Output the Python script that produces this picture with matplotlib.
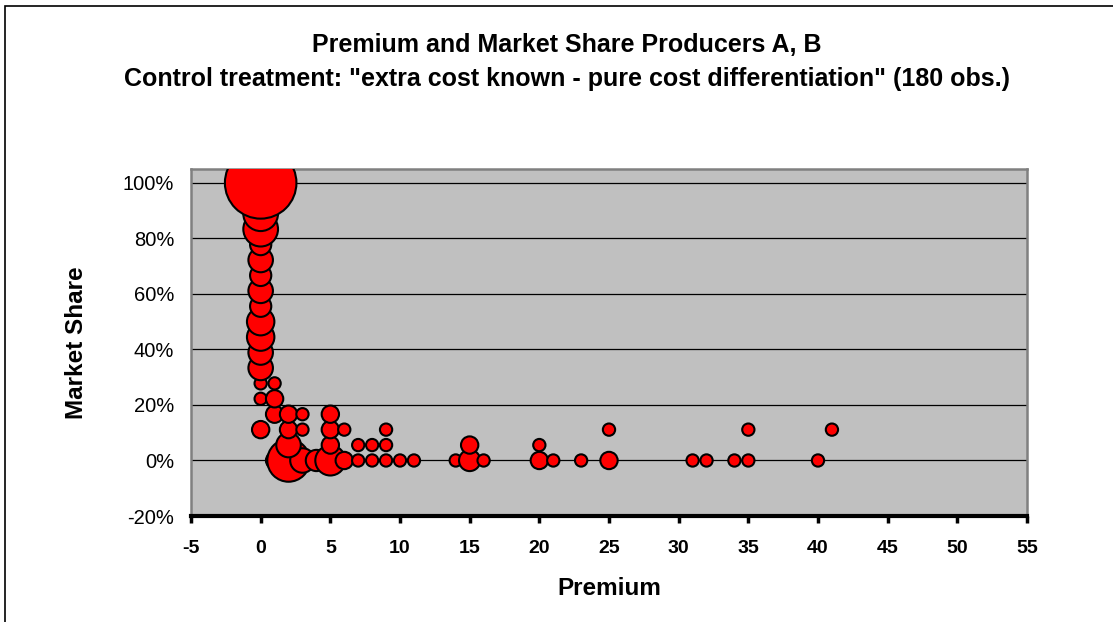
import matplotlib.pyplot as plt
import matplotlib
import numpy as np
from matplotlib.patches import Rectangle
from matplotlib.ticker import FuncFormatter

matplotlib.rcParams['font.family'] = ['Liberation Sans', 'DejaVu Sans']
matplotlib.rcParams['axes.unicode_minus'] = False

# premium, market share (in 1/18 steps) and number of obs at that point
premium = [0, 0, 0, 0, 0, 0, 0, 0, 0, 0, 0, 0, 0, 0, 0, 0,
           1, 1, 1, 1,
           2, 2, 2, 2,
           3, 3, 3,
           4,
           5, 5, 5, 5,
           6, 6,
           7, 7,
           8, 8,
           9, 9, 9,
           10, 11, 14,
           15, 15,
           16,
           20, 20,
           21, 23,
           25, 25,
           31, 32, 34,
           35, 35,
           40, 41]
share18 = [18, 17, 16, 15, 14, 13, 12, 11, 10, 9, 8, 7, 6, 5, 4, 2,
           5, 4, 3, 0,
           3, 2, 1, 0,
           3, 2, 0,
           0,
           3, 2, 1, 0,
           2, 0,
           1, 0,
           1, 0,
           2, 1, 0,
           0, 0, 0,
           1, 0,
           0,
           1, 0,
           0, 0,
           2, 0,
           0, 0, 0,
           2, 0,
           0, 2]
obs = [34, 3, 8, 8, 3, 4, 3, 4, 3, 5, 5, 4, 4, 1, 1, 2,
       1, 2, 2, 2,
       2, 2, 4, 12,
       1, 1, 4,
       3,
       2, 2, 2, 6,
       1, 2,
       1, 1,
       1, 1,
       1, 1, 1,
       1, 1, 1,
       2, 3,
       1,
       1, 2,
       1, 1,
       1, 2,
       1, 1, 1,
       1, 1,
       1, 1]

x = np.array(premium, dtype=float)
y = np.array(share18) / 18.0
n = np.array(obs, dtype=float)
# excel draws the lower shares first
order = np.lexsort((x, y))

fig = plt.figure(figsize=(11.13, 6.22), dpi=100)
fig.patches.append(Rectangle((5 / 1113, -0.1), 1.2, 1 - 6 / 622 + 0.1, transform=fig.transFigure,
                             fill=False, edgecolor='black', lw=1.2))

ax = fig.add_axes([191 / 1113, 1 - 516 / 622, 836 / 1113, 347 / 622])
ax.set_facecolor('#c0c0c0')
ax.set_xlim(-5, 55)
ax.set_ylim(-0.2, 1.05)
ax.set_xticks(np.arange(-5, 56, 5))
ax.set_yticks(np.arange(-0.2, 1.01, 0.2))
ax.yaxis.set_major_formatter(FuncFormatter(lambda v, p: f'{v * 100:.0f}%'))

for g in np.arange(0, 1.01, 0.2):
    ax.axhline(g, color='black', lw=0.9, zorder=1)

ax.scatter(x[order], y[order], s=n[order] * 78, c='#ff0000', edgecolors='black',
           linewidths=1.5, zorder=3, clip_on=True)

for side in ['left', 'top', 'right']:
    ax.spines[side].set_color('#808080')
    ax.spines[side].set_linewidth(1.8)
ax.spines['bottom'].set_color('black')
ax.spines['bottom'].set_linewidth(3)
ax.spines['bottom'].set_zorder(4)

ax.tick_params(axis='x', direction='out', length=5, width=2.5, color='black', pad=12)
ax.tick_params(axis='y', length=0, pad=12)
for lab in ax.get_xticklabels():
    lab.set_fontweight('bold')
    lab.set_fontsize(14)
for lab in ax.get_yticklabels():
    lab.set_fontsize(14.5)

ax.set_xlabel('Premium', fontsize=17.5, fontweight='bold', labelpad=15)
ax.set_ylabel('Market Share', fontsize=17.5, fontweight='bold', labelpad=25)

fig.text(567 / 1113, 1 - 45 / 622, 'Premium and Market Share Producers A, B',
         ha='center', va='center', fontsize=18, fontweight='bold')
fig.text(567 / 1113, 1 - 79 / 622,
         'Control treatment: "extra cost known - pure cost differentiation" (180 obs.)',
         ha='center', va='center', fontsize=18, fontweight='bold')

fig.savefig('out.png', dpi=100)
